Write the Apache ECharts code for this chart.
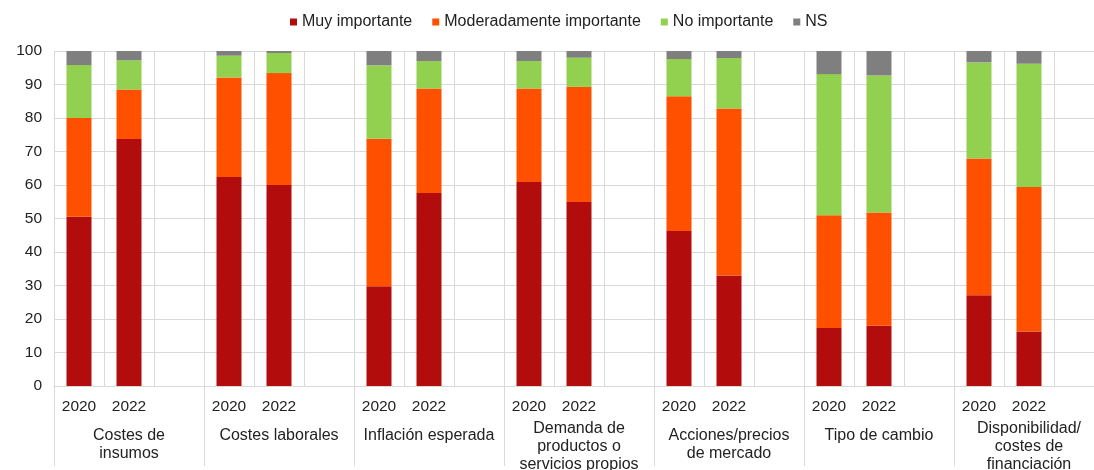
<!DOCTYPE html>
<html>
<head>
<meta charset="utf-8">
<script src="https://cdn.jsdelivr.net/npm/echarts@6/dist/echarts.min.js"></script>
<style>
  html, body { margin: 0; padding: 0; background: #fff; overflow: hidden; }
  /* the last empty slot runs past the right edge, as in the original */
  #main { width: 1104px; height: 470px; }
</style>
</head>
<body>
<div id="main"></div>
<script>
// groups and years
var grupos = ['Costes de\ninsumos', 'Costes laborales', 'Inflación esperada',
  'Demanda de\nproductos o\nservicios propios', 'Acciones/precios\nde mercado',
  'Tipo de cambio', 'Disponibilidad/\ncostes de\nfinanciación'];
var anios = ['2020', '2022'];

// values per bar (2020, 2022 for each group)
var muyImportante = [50.5, 73.7, 62.4, 60.0, 29.8, 57.6, 60.9, 54.9, 46.3, 33.0, 17.3, 18.0, 27.1, 16.3];
var moderadamente = [29.5, 14.8, 29.7, 33.4, 44.0, 31.2, 27.9, 34.4, 40.2, 49.8, 33.7, 33.8, 40.8, 43.1];
var noImportante = [15.8, 8.7, 6.5, 6.0, 21.9, 8.2, 8.2, 8.7, 11.1, 15.1, 42.1, 40.9, 28.7, 36.8];
var ns = [4.2, 2.8, 1.4, 0.6, 4.3, 3.0, 3.0, 2.0, 2.4, 2.1, 6.9, 7.3, 3.4, 3.8];

var yTicks = { min: 0, max: 100, interval: 10 };

// each group = 2020, 2022 and an empty slot
var slots = [];
grupos.forEach(function () {
  anios.forEach(function (a) { slots.push(a); });
  slots.push('');
});

function aSlots(vals) {
  var out = [];
  for (var i = 0; i < grupos.length; i++) {
    out.push(vals[i * 2], vals[i * 2 + 1], '-');
  }
  return out;
}

var grupoData = grupos.map(function (g) {
  var lineas = g.split('\n').length;
  return { value: g, textStyle: { padding: [lineas > 2 ? 0 : 7, 0, 0, 0] } };
});

var font = 'Liberation Sans, Arial, sans-serif';
var gris = '#d9d9d9';
var texto = '#222';

var chart = echarts.init(document.getElementById('main'));
var option = {
  animation: false,
  textStyle: { fontFamily: font },
  color: ['#b20c0c', '#ff5000', '#92d050', '#7f7f7f'],
  legend: {
    top: 9,
    left: 285,
    itemWidth: 7,
    itemHeight: 7,
    itemGap: 20,
    icon: 'rect',
    textStyle: { fontSize: 16, color: texto, fontFamily: font },
    data: ['Muy importante', 'Moderadamente importante', 'No importante', 'NS']
  },
  grid: { left: 54, right: 0, top: 51, bottom: 84, outerBoundsMode: 'none' },
  xAxis: [
    {
      type: 'category',
      data: slots,
      axisLine: { lineStyle: { color: gris } },
      axisTick: { show: false },
      axisLabel: { interval: 0, margin: 13, fontSize: 15.5, color: texto, fontFamily: font },
      splitLine: { show: true, interval: 0, lineStyle: { color: gris } }
    },
    {
      type: 'category',
      position: 'bottom',
      data: grupoData,
      axisLine: { show: false },
      axisTick: { show: true, interval: 0, length: 80, lineStyle: { color: gris } },
      axisLabel: {
        interval: 0, margin: 34, fontSize: 16, color: texto, fontFamily: font,
        verticalAlign: 'top', lineHeight: 18
      },
      splitLine: { show: false }
    }
  ],
  yAxis: {
    type: 'value',
    min: yTicks.min,
    max: yTicks.max,
    interval: yTicks.interval,
    axisLine: { show: false },
    axisTick: { show: false },
    axisLabel: { margin: 12, fontSize: 15.5, color: texto, fontFamily: font },
    splitLine: { lineStyle: { color: gris } }
  },
  series: [
    { name: 'Muy importante', type: 'bar', stack: 't', barWidth: 25, data: aSlots(muyImportante) },
    { name: 'Moderadamente importante', type: 'bar', stack: 't', barWidth: 25, data: aSlots(moderadamente) },
    { name: 'No importante', type: 'bar', stack: 't', barWidth: 25, data: aSlots(noImportante) },
    { name: 'NS', type: 'bar', stack: 't', barWidth: 25, data: aSlots(ns) }
  ]
};
chart.setOption(option);
</script>
</body>
</html>
